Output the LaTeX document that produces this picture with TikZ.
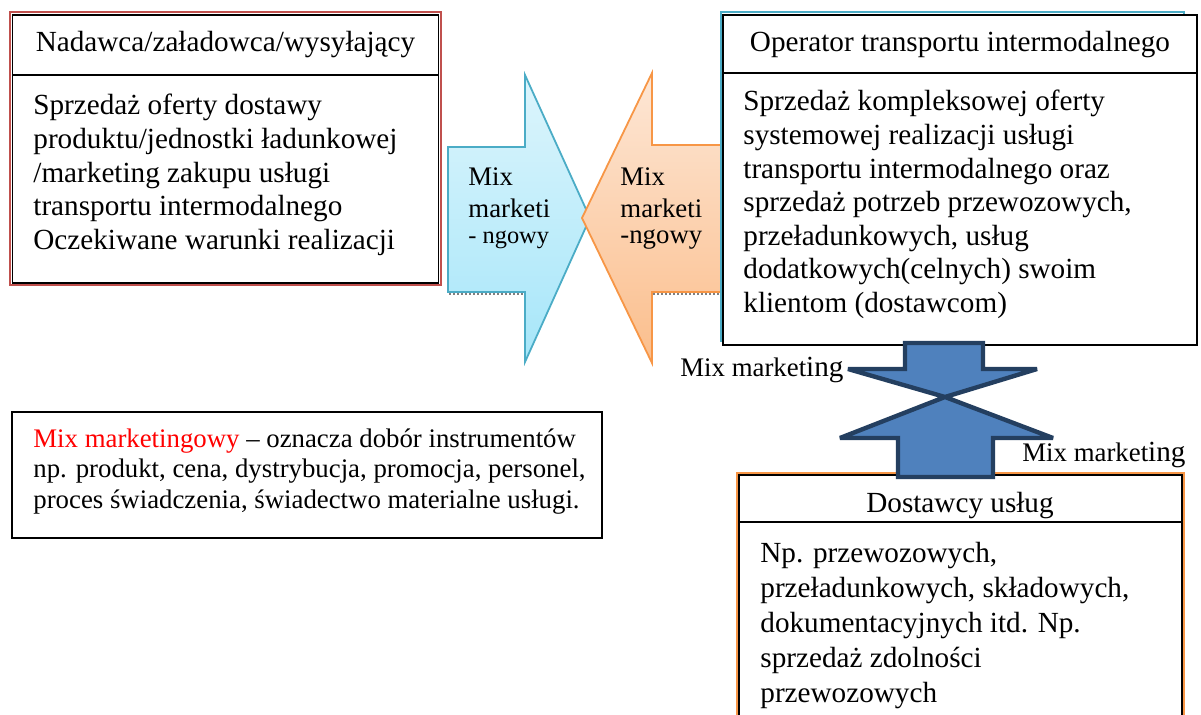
\documentclass[tikz,border=0pt]{standalone}
\usepackage{fontspec}
\setmainfont{Liberation Serif}
\usetikzlibrary{positioning}
\definecolor{ramkaNad}{HTML}{C0504D}
\definecolor{ramkaOp}{HTML}{4BACC6}
\definecolor{ramkaDost}{HTML}{F79646}
\definecolor{niebGora}{HTML}{DDF5FC}
\definecolor{niebDol}{HTML}{A6E6F9}
\definecolor{pomGora}{HTML}{FDE7D6}
\definecolor{pomDol}{HTML}{FBBE8C}
\definecolor{strzalka}{HTML}{4F81BD}
\definecolor{strzalkaBrzeg}{HTML}{243F60}

\begin{document}
\begin{tikzpicture}[x=0.5pt, y=-0.5pt,
		box/.style   = {draw, line width=0.7pt, fill=white, rectangle, inner sep=0pt},
		frame/.style = {draw, line width=1.4pt, rectangle, inner sep=0pt},
		head/.style  = {font=\fontsize{14.6}{16.8}\selectfont, inner sep=0pt, anchor=base},
		body/.style  = {font=\fontsize{14.6}{16.8}\selectfont, align=left, inner sep=0pt, anchor=north west},
		mix/.style   = {font=\fontsize{13.4}{16}\selectfont, align=left, inner sep=0pt, anchor=north west},
		mixlabel/.style = {font=\fontsize{14.6}{16.8}\selectfont, inner sep=0pt, anchor=base west},
		flow/.style  = {line width=0.9pt, line join=miter},
		shadow/.style = {gray, densely dotted, line width=1pt}]
		
		\clip (0,0) rectangle (1201,715);
		
		% nadawca, upper left
		\node[frame, draw=ramkaNad, minimum width=215.5pt, minimum height=136.5pt] (nadR) at (225.5,148.5) {};
		\node[box, minimum width=213pt, minimum height=134pt] (nad) at (225.5,149) {};
		\draw[line width=0.7pt] (nad.west |- 0,75) -- (nad.east |- 0,75);
		\node[head] (nadT) at (225.5,52) {Nadawca/załadowca/wysyłający};
		\node[body] (nadB) at (33,94) {Sprzedaż oferty dostawy\\produktu/jednostki ładunkowej\\/marketing zakupu usługi\\transportu intermodalnego\\Oczekiwane warunki realizacji};
		
		% the two arrows in between
		\draw[flow, ramkaOp, top color=niebGora, bottom color=niebDol] (448,147) -- (525,147) -- (525,75) -- (590,218) -- (525,362) -- (525,292) -- (448,292) -- cycle;
		\draw[shadow] (449,294) -- (524,294);
		\draw[flow, ramkaDost, top color=pomGora, bottom color=pomDol] (722,145) -- (652,145) -- (652,73) -- (582,218) -- (652,363) -- (652,292) -- (722,292) -- cycle;
		\draw[shadow] (653,294) -- (721,294);
		\node[mix] (mixA) at (468,167) {Mix\\marketi\\[-3pt]{\fontsize{12.2}{14}\selectfont - ngowy}};
		\node[mix] (mixB) at (620,167) {Mix\\marketi\\[-3pt]-ngowy};
		
		% operator, upper right
		\node[frame, draw=ramkaOp, minimum width=231.5pt, minimum height=164.5pt] (opR) at (952.5,176.5) {};
		\node[box, minimum width=237pt, minimum height=165pt] (op) at (960,180) {};
		\draw[line width=0.7pt] (op.west |- 0,73) -- (op.east |- 0,73);
		\node[head] (opT) at (960,52) {Operator transportu intermodalnego};
		\node[body] (opB) at (743,90) {Sprzedaż kompleksowej oferty\\systemowej realizacji usługi\\transportu intermodalnego oraz\\sprzedaż potrzeb przewozowych,\\przeładunkowych, usług\\dodatkowych(celnych) swoim\\klientom (dostawcom)};
		
		% legend
		\node[box, line width=0.6pt, minimum width=295pt, minimum height=63pt] (leg) at (307,475) {};
		\node[mix, font=\fontsize{13.4}{15.25}\selectfont] (legT) at (33,428) {\textcolor{red}{Mix marketingowy} – oznacza dobór instrumentów\\np. produkt, cena, dystrybucja, promocja, personel,\\proces świadczenia, świadectwo materialne usługi.};
		
		% dostawcy, lower right
		\node[frame, draw=ramkaDost, minimum width=223.5pt, minimum height=143.5pt] (dostR) at (960.5,616.5) {};
		\node[box, minimum width=221.5pt, minimum height=142.5pt] (dost) at (960.5,617.5) {};
		\draw[line width=0.7pt] (dost.west |- 0,522) -- (dost.east |- 0,522);
		\node[head] (dostT) at (960,513) {Dostawcy usług};
		\node[body, font=\fontsize{14.6}{17.5}\selectfont] (dostB) at (760,542) {Np. przewozowych,\\przeładunkowych, składowych,\\dokumentacyjnych itd. Np.\\sprzedaż zdolności\\przewozowych};
		
		% double arrow between operator and dostawcy
		\draw[strzalkaBrzeg, line width=2.2pt, fill=strzalka, line join=miter, miter limit=3] (905,343) -- (983,343) -- (983,369) -- (1037,369) -- (945,397) -- (1053,438) -- (993,438) -- (993,477) -- (898,477) -- (898,438) -- (840,438) -- (945,397) -- (848,369) -- (905,369) -- cycle;
		\node[mixlabel] (mixL) at (680,377) {{\fontsize{13.4}{16}\selectfont Mix market}ing};
		\node[mixlabel] (mixR) at (1022,462) {{\fontsize{13.4}{16}\selectfont Mix market}ing};
\end{tikzpicture}
\end{document}
